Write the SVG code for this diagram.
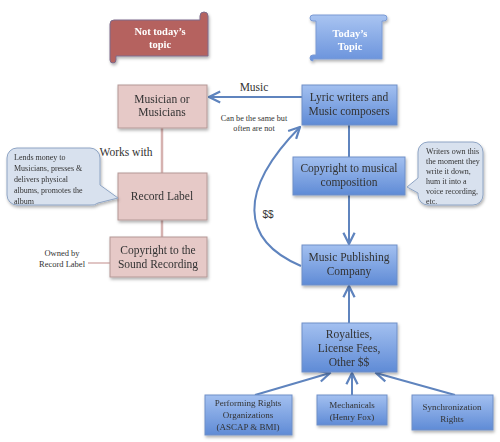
<svg xmlns="http://www.w3.org/2000/svg" width="500" height="442" viewBox="0 0 500 442">
<defs>
<linearGradient id="blue" x1="0" y1="0" x2="0" y2="1"><stop offset="0" stop-color="#a3c0f0"/><stop offset="1" stop-color="#5f8bd6"/></linearGradient>
<linearGradient id="bann" x1="0" y1="0" x2="0" y2="1"><stop offset="0" stop-color="#a9c4f1"/><stop offset="1" stop-color="#6a93dc"/></linearGradient>
<marker id="ah" viewBox="0 0 10 10" refX="9" refY="5" markerWidth="7" markerHeight="7" orient="auto"><path d="M1,1 L9,5 L1,9" fill="none" stroke="#5f84be" stroke-width="1.6"/></marker>
<filter id="sh" x="-10%" y="-10%" width="130%" height="140%"><feDropShadow dx="1" dy="2" stdDeviation="1.5" flood-color="#000" flood-opacity="0.3"/></filter>
</defs>
<style>
text{font-family:"Liberation Serif","DejaVu Serif",serif;fill:#333;text-anchor:middle}
.pink{fill:#e6c9c7;stroke:#b49896;stroke-width:1}
.blue{fill:url(#blue);stroke:#6f8fc7;stroke-width:1}
.t{font-size:11.5px}
.s{font-size:9px}
.call{fill:#d8e1ee;stroke:#8ea4c4;stroke-width:1}
.ct{font-size:8px;text-anchor:start}
.bt{font-weight:bold;fill:#fff;font-size:10.5px}
.pl{stroke:#d6b2b0;stroke-width:2.5;fill:none}
.bl{stroke:#5f84be;stroke-width:2;fill:none}
</style>
<g id="banner-not-today" filter="url(#sh)">
<path d="M114,20 L200,20 L200,16 a4,4 0 0 1 8,0 L208,56 L116,56 L116,60 a3,3 0 0 1 -6,0 L110,24 a4,4 0 0 1 4,-4 Z" fill="#b5625f" stroke="#7d6b8a" stroke-width="1"/>
<text class="bt" x="160" y="35">Not today’s</text>
<text class="bt" x="160" y="48">topic</text>
</g>
<g id="banner-today" filter="url(#sh)">
<path d="M313,15 L384,15 a3,3 0 0 1 0,6 L382,21 L382,59 L313,59 L313,61 a3,3 0 0 1 -3,-3 a3,3 0 0 1 3,-3 L316,55 L316,21 L313,21 a3,3 0 0 1 0,-6 Z" fill="url(#bann)" stroke="#7a9ad4" stroke-width="1"/>
<text class="bt" x="350" y="37">Today’s</text>
<text class="bt" x="350" y="50">Topic</text>
</g>
<g id="connectors">
<line class="pl" x1="162" y1="128" x2="162" y2="173"/>
<line class="pl" x1="162" y1="220" x2="162" y2="237"/>
<line x1="88" y1="263" x2="110" y2="263" stroke="#d6b2b0" stroke-width="1.5"/>
<line class="bl" x1="302" y1="97" x2="209" y2="97" marker-end="url(#ah)"/>
<line class="bl" x1="349" y1="125" x2="349" y2="157"/>
<line class="bl" x1="349" y1="195" x2="349" y2="244" marker-end="url(#ah)"/>
<line class="bl" x1="349" y1="323" x2="349" y2="286" marker-end="url(#ah)"/>
<path class="bl" d="M301,266 C240,240 238,190 300,127" marker-end="url(#ah)"/>
<line class="bl" x1="255" y1="395" x2="330" y2="373" marker-end="url(#ah)"/>
<line class="bl" x1="352" y1="395" x2="352" y2="373" marker-end="url(#ah)"/>
<line class="bl" x1="455" y1="395" x2="376" y2="373" marker-end="url(#ah)"/>
<text class="t" x="254" y="91">Music</text>
<text x="254" y="121" style="font-size:8.2px">Can be the same but</text>
<text x="254" y="131" style="font-size:8.2px">often are not</text>
<text x="268" y="218" style="font-family:'Liberation Sans',sans-serif;font-size:10px">$$</text>
<text class="t" x="126" y="156">Works with</text>
<text x="62" y="256" style="font-size:8.5px">Owned by</text>
<text x="62" y="267" style="font-size:8.5px">Record Label</text>
</g>
<g id="musician" filter="url(#sh)"><rect class="pink" x="118" y="85" width="89" height="43"/><text class="t" x="162" y="103">Musician or</text><text class="t" x="162" y="116">Musicians</text></g>
<g id="record-label" filter="url(#sh)"><rect class="pink" x="118" y="173" width="89" height="47"/><text class="t" x="162" y="200">Record Label</text></g>
<g id="sound-recording" filter="url(#sh)"><rect class="pink" x="110" y="237" width="97" height="40"/><text class="t" x="158" y="254">Copyright to the</text><text class="t" x="158" y="268">Sound Recording</text></g>
<g id="label-callout" filter="url(#sh)"><path class="call" d="M17,148 L90,148 a10,10 0 0 1 10,10 L100,185 L118,198 L98,203 a10,10 0 0 1 -8,2 L17,205 a10,10 0 0 1 -10,-10 L7,158 a10,10 0 0 1 10,-10 Z"/>
<text class="ct" x="14" y="160">Lends money to</text>
<text class="ct" x="14" y="171">Musicians, presses &amp;</text>
<text class="ct" x="14" y="182">delivers physical</text>
<text class="ct" x="14" y="193">albums, promotes the</text>
<text class="ct" x="14" y="204">album</text></g>
<g id="lyric" filter="url(#sh)"><rect class="blue" x="302" y="85" width="95" height="40"/><text class="t" x="349" y="101">Lyric writers and</text><text class="t" x="349" y="115">Music composers</text></g>
<g id="composition" filter="url(#sh)"><rect class="blue" x="293" y="157" width="112" height="38"/><text class="t" x="349" y="172">Copyright to musical</text><text class="t" x="349" y="186">composition</text></g>
<g id="writer-callout" filter="url(#sh)"><path class="call" d="M428,142 L473,142 a10,10 0 0 1 10,10 L483,195 a10,10 0 0 1 -10,10 L428,205 a10,10 0 0 1 -10,-10 L418,193 L407,187 L418,178 L418,152 a10,10 0 0 1 10,-10 Z"/>
<text class="ct" x="426" y="154">Writers own this</text>
<text class="ct" x="426" y="164">the moment they</text>
<text class="ct" x="426" y="174">write it down,</text>
<text class="ct" x="426" y="184">hum it into a</text>
<text class="ct" x="426" y="194">voice recording,</text>
<text class="ct" x="426" y="204">etc.</text></g>
<g id="publishing" filter="url(#sh)"><rect class="blue" x="302" y="245" width="95" height="40"/><text class="t" x="349" y="261">Music Publishing</text><text class="t" x="349" y="275">Company</text></g>
<g id="royalties" filter="url(#sh)"><rect class="blue" x="302" y="323" width="95" height="49"/><text class="t" x="349" y="338">Royalties,</text><text class="t" x="349" y="352">License Fees,</text><text class="t" x="349" y="366">Other $$</text></g>
<g id="pro" filter="url(#sh)"><rect class="blue" x="205" y="395" width="87" height="40"/><text class="s" x="248" y="406">Performing Rights</text><text class="s" x="248" y="418">Organizations</text><text class="s" x="248" y="430">(ASCAP &amp; BMI)</text></g>
<g id="mechanicals" filter="url(#sh)"><rect class="blue" x="317" y="395" width="70" height="30"/><text class="s" x="352" y="408">Mechanicals</text><text class="s" x="352" y="420">(Henry Fox)</text></g>
<g id="sync" filter="url(#sh)"><rect class="blue" x="412" y="395" width="81" height="35"/><text class="s" x="452" y="410">Synchronization</text><text class="s" x="452" y="422">Rights</text></g>
</svg>
